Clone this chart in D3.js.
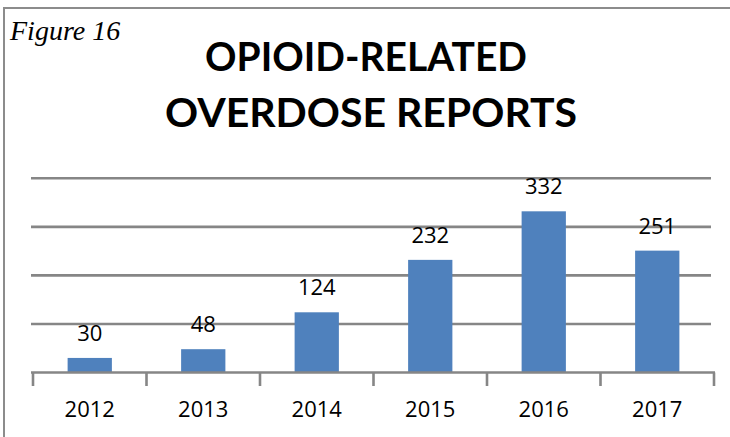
<!DOCTYPE html>
<html>
<head>
<meta charset="utf-8">
<script src="https://cdn.jsdelivr.net/npm/d3@7"></script>
<style>
  html, body { margin: 0; padding: 0; background: #fff; }
  svg { display: block; }
</style>
</head>
<body>
<svg id="chart" width="730" height="437"></svg>
<script>
// Opioid-related overdose reports per year
const years = ["2012", "2013", "2014", "2015", "2016", "2017"];
const reports = [30, 48, 124, 232, 332, 251];
const gridValues = [100, 200, 300, 400];
const titleLines = ["OPIOID-RELATED", "OVERDOSE REPORTS"];
const figureLabel = "Figure 16";

const svg = d3.select("#chart");
const W = 730, H = 437;

const barColor = "#4F81BD";
const gridColor = "#868686";

// frame: top and left edge
svg.append("line").attr("x1", 3).attr("x2", W).attr("y1", 8).attr("y2", 8)
  .attr("stroke", "#8c8c8c").attr("stroke-width", 2);
svg.append("line").attr("x1", 4).attr("x2", 4).attr("y1", 8).attr("y2", H)
  .attr("stroke", "#8c8c8c").attr("stroke-width", 2);

// figure tag
svg.append("text")
  .attr("x", 10).attr("y", 40)
  .attr("font-family", "'Liberation Serif', serif")
  .attr("font-style", "italic")
  .attr("font-size", 28)
  .attr("fill", "#000")
  .text(figureLabel);

// title, each line spanning its set width
const titleWidths = [322, 412];
const title = svg.append("g")
  .attr("font-family", "Lato, 'Open Sans', sans-serif")
  .attr("font-weight", 700)
  .attr("text-anchor", "middle")
  .attr("fill", "#000");
title.selectAll("text").data(titleLines).join("text")
  .attr("x", (d, i) => i === 0 ? 366 : 371)
  .attr("y", (d, i) => 71 + i * 56)
  .attr("font-size", 40)
  .attr("textLength", (d, i) => titleWidths[i])
  .attr("lengthAdjust", "spacingAndGlyphs")
  .text(d => d);

// scales
const x = d3.scaleBand().domain(years).range([33, 714]).paddingInner(0.61).paddingOuter(0.305);
const y = d3.scaleLinear().domain([0, 400]).range([372.5, 178.3]);

// horizontal gridlines
svg.append("g").selectAll("line").data(gridValues).join("line")
  .attr("x1", 31).attr("x2", 711)
  .attr("y1", d => y(d)).attr("y2", d => y(d))
  .attr("stroke", gridColor).attr("stroke-width", 2.6);

// bars
svg.append("g").selectAll("rect").data(years).join("rect")
  .attr("x", d => x(d))
  .attr("width", x.bandwidth())
  .attr("y", (d, i) => y(reports[i]))
  .attr("height", (d, i) => y(0) - y(reports[i]))
  .attr("fill", barColor);

// category axis with ticks at band boundaries
const axisG = svg.append("g");
axisG.append("line")
  .attr("x1", 31).attr("x2", 715)
  .attr("y1", y(0)).attr("y2", y(0))
  .attr("stroke", gridColor).attr("stroke-width", 2.6);
const boundaries = years.map(d => x(d) - x.step() * x.paddingInner() / 2);
boundaries.push(x(years[years.length - 1]) + x.bandwidth() + x.step() * x.paddingInner() / 2);
axisG.selectAll("line.tick").data(boundaries).join("line")
  .attr("class", "tick")
  .attr("x1", d => d).attr("x2", d => d)
  .attr("y1", y(0)).attr("y2", y(0) + 13.5)
  .attr("stroke", gridColor).attr("stroke-width", 2.6);
axisG.selectAll("text").data(years).join("text")
  .attr("x", d => x(d) + x.bandwidth() / 2)
  .attr("y", 416.5)
  .attr("text-anchor", "middle")
  .attr("font-family", "'Open Sans', sans-serif")
  .attr("font-size", 22)
  .attr("fill", "#000")
  .text(d => d);

// value labels
svg.append("g").selectAll("text").data(years).join("text")
  .attr("x", d => x(d) + x.bandwidth() / 2)
  .attr("y", (d, i) => y(reports[i]) - 17)
  .attr("text-anchor", "middle")
  .attr("font-family", "'Open Sans', sans-serif")
  .attr("font-size", 22)
  .attr("fill", "#000")
  .text((d, i) => reports[i]);
</script>
</body>
</html>
